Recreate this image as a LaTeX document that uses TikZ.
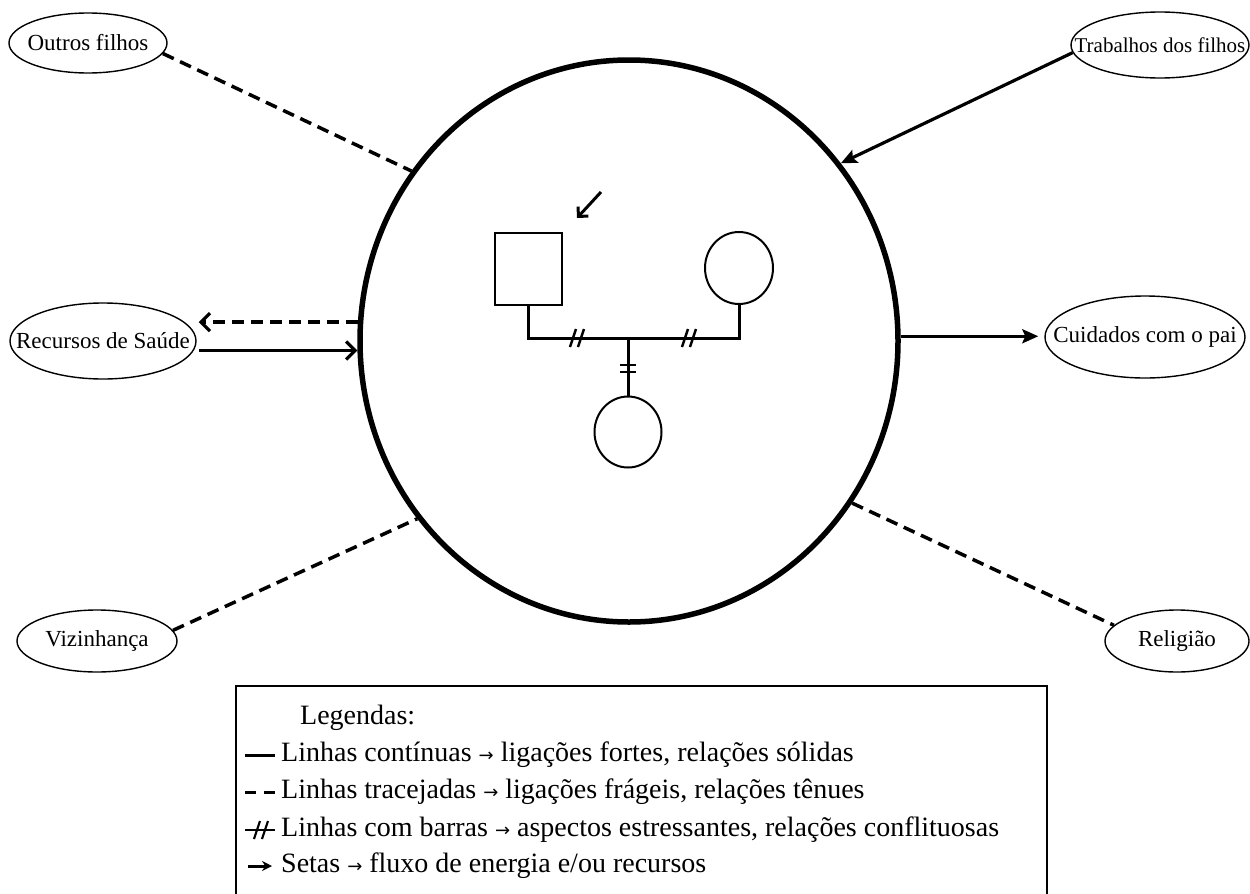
\documentclass[tikz,border=0pt]{standalone}
\usepackage{fontspec}
\setmainfont{Liberation Serif}
\newfontfamily\symfont{DejaVu Sans}
\newcommand{\legarr}{{\symfont\fontsize{18}{20}\selectfont →}}
\usetikzlibrary{shapes.geometric,arrows.meta}
\begin{document}
\begin{tikzpicture}[x=1pt,y=-1pt,
  ell/.style={ellipse,draw,line width=1.4pt,inner sep=0pt},
  lbl/.style={label={[font=\fontsize{23}{26}\selectfont,inner sep=0pt]center:#1}},
  dashline/.style={line width=3.5pt,dash pattern=on 12pt off 7pt},
  solidline/.style={line width=3.2pt},
  gen/.style={line width=3pt},
  genshape/.style={draw,line width=2pt,inner sep=0pt},
  filltip/.style={-{Stealth[length=16pt,width=14pt,inset=3pt]}},
  barbtip/.style={-{Straight Barb[length=9pt,width=18pt,line width=3.2pt]}},
  legtext/.style={anchor=west,inner sep=0pt,font=\fontsize{28}{32}\selectfont},
]
\useasboundingbox (0,0) rectangle (1250,894);

% central household circle
\node[draw,ellipse,line width=5.5pt,minimum width=538pt,minimum height=562pt,inner sep=0pt] (C) at (629,341) {};

% surrounding systems
\node[ell,minimum width=158pt,minimum height=60pt,lbl={Outros filhos}] (of) at (88,43) {};
\node[ell,minimum width=178pt,minimum height=66pt,label={[font=\fontsize{21}{24}\selectfont,inner sep=0pt]center:Trabalhos dos filhos}] (tf) at (1160,45) {};
\node[ell,minimum width=186pt,minimum height=76pt,lbl={Recursos de Saúde}] (rs) at (103,341) {};
\node[ell,minimum width=200pt,minimum height=82pt,lbl={Cuidados com o pai}] (cp) at (1145,337) {};
\node[ell,minimum width=160pt,minimum height=62pt,lbl={Vizinhança}] (vz) at (97,641) {};
\node[ell,minimum width=144pt,minimum height=62pt,lbl={Religião}] (rg) at (1177,641) {};

% connectors
\draw[dashline] (of.-8) -- (C.142);
\draw[solidline,filltip] (tf.185) -- (C.40);
\draw[dashline,barbtip] (C.176) -- ([xshift=2pt]rs.east |- C.176);
\draw[solidline,barbtip] ([xshift=2pt]rs.east |- C.182) -- (C.182);
\draw[solidline,filltip] (C.1) -- ([xshift=-6pt]cp.west |- C.1);
\draw[dashline] (vz.8) -- (C.220);
\draw[dashline] (C.-36) -- (rg.166);

% genogram
\node[genshape,minimum width=67pt,minimum height=72pt] (sq) at (528.5,269) {};
\node[genshape,ellipse,minimum width=68pt,minimum height=72pt] (rc) at (739,268) {};
\node[genshape,ellipse,minimum width=67pt,minimum height=71pt] (bc) at (628,432) {};
\coordinate (mid) at (628,338);
\draw[gen] (sq.south) |- (mid) -| (rc.south);
\draw[gen] (mid) -- (bc.north);
% conflict marks
\draw[line width=2.5pt] (570,347) -- (576,329) (578,347) -- (584,329);
\draw[line width=2.5pt] (682,347) -- (688,329) (690,347) -- (696,329);
\draw[line width=2.5pt] (620,365) -- (636,365) (620,372) -- (636,372);
% index arrow
\coordinate (pa) at (601,192);
\coordinate (pb) at (577,218);
\draw[line width=3pt,-{Straight Barb[length=7pt,width=14pt]}] (pa) -- (pb);

% legend
\begin{scope}
\clip (0,0) rectangle (1250,894);
\draw[line width=2pt] (236,686) rectangle (1047,910);
\end{scope}
\node[legtext] (l0) at (300,718) {Legendas:};
\node[legtext] (l1) at (281,755) {Linhas contínuas \legarr{} ligações fortes, relações sólidas};
\node[legtext] (l2) at (281,792) {Linhas tracejadas \legarr{} ligações frágeis, relações tênues};
\node[legtext] (l3) at (281,830) {Linhas com barras \legarr{} aspectos estressantes, relações conflituosas};
\node[legtext] (l4) at (281,866) {Setas \legarr{} fluxo de energia e/ou recursos};
% legend symbols
\draw[line width=3pt] (245,755) -- (275,755);
\draw[line width=3pt] (245,792) -- (256,792) (264,792) -- (275,792);
\draw[line width=2.5pt] (245,830) -- (275,830);
\draw[line width=2.2pt] (254,839) -- (260,821) (262,839) -- (268,821);
\draw[line width=3pt,-{Stealth[length=10pt,width=10pt]}] (248,866) -- (272,866);
\end{tikzpicture}
\end{document}
